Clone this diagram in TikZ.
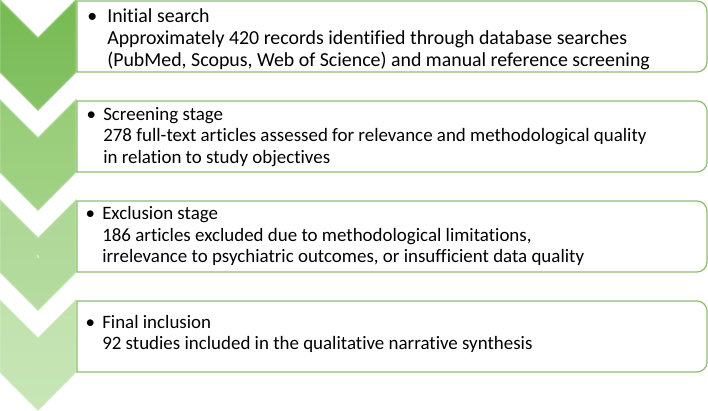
\documentclass[tikz,border=0pt]{standalone}
\usepackage{fontspec}
\setmainfont{Carlito}[Ligatures=CommonOff]
\usepackage{tikz}

\definecolor{chevA}{RGB}{118,186,82}
\definecolor{chevB}{RGB}{150,204,118}
\definecolor{chevC}{RGB}{172,215,148}
\definecolor{chevD}{RGB}{192,226,172}
\definecolor{boxline}{RGB}{140,190,110}

\tikzset{
  chevron/.style={line width=0.8pt, line join=miter},
  stagebox/.style={draw=boxline, line width=0.9pt, fill=white},
  stagetext/.style={anchor=west, align=left, inner sep=0pt,
    font=\fontsize{14.2}{16}\selectfont}
}

\begin{document}
\begin{tikzpicture}[x=0.75pt, y=0.75pt]
    \def\cw{76}
    \def\tip{38}

    \useasboundingbox (0,0) rectangle (708,-411);

    \draw [chevron, draw=chevA!75!white, top color=chevA, bottom color=chevA!88!white]
    (0,0) -- (\tip,-38) -- (\cw,0) -- (\cw,-72) -- (\tip,-110) -- (0,-72) -- cycle;

    \draw [chevron, shift={(0,-100)}, draw=chevB!75!white, top color=chevB, bottom color=chevB!88!white]
    (0,0) -- (\tip,-38) -- (\cw,0) -- (\cw,-72) -- (\tip,-110) -- (0,-72) -- cycle;

    \draw [chevron, shift={(0,-200)}, draw=chevC!75!white, top color=chevC, bottom color=chevC!88!white]
    (0,0) -- (\tip,-38) -- (\cw,0) -- (\cw,-72) -- (\tip,-110) -- (0,-72) -- cycle;

    \draw [chevron, shift={(0,-300)}, draw=chevD!75!white, top color=chevD, bottom color=chevD!88!white]
    (0,0) -- (\tip,-38) -- (\cw,0) -- (\cw,-72) -- (\tip,-110) -- (0,-72) -- cycle;


    \draw [stagebox] (77,-1) -- (697,-1) arc [start angle=90, end angle=0, radius=10]
    -- (707,-62) arc [start angle=0, end angle=-90, radius=10] -- (77,-72) -- cycle;

    \draw [stagebox, shift={(0,-100)}] (77,-1) -- (697,-1) arc [start angle=90, end angle=0, radius=10]
    -- (707,-62) arc [start angle=0, end angle=-90, radius=10] -- (77,-72) -- cycle;

    \draw [stagebox, shift={(0,-200)}] (77,-1) -- (697,-1) arc [start angle=90, end angle=0, radius=10]
    -- (707,-62) arc [start angle=0, end angle=-90, radius=10] -- (77,-72) -- cycle;

    \draw [stagebox, shift={(0,-300)}] (77,-1) -- (697,-1) arc [start angle=90, end angle=0, radius=10]
    -- (707,-62) arc [start angle=0, end angle=-90, radius=10] -- (77,-72) -- cycle;


    \node (initial) [stagetext, font=\fontsize{14.9}{16.5}\selectfont] at (107,-39)
    {\llap{\textbullet\hspace{7.5pt}}Initial search\\
      Approximately 420 records identified through database searches\\
      (PubMed, Scopus, Web of Science) and manual reference screening};

    \node (screening) [stagetext] at (103,-137)
    {\llap{\textbullet\hspace{5.5pt}}Screening stage\\
      278 full-text articles assessed for relevance and methodological quality\\
      in relation to study objectives};

    \node (exclusion) [stagetext] at (102,-236)
    {\llap{\textbullet\hspace{5.5pt}}Exclusion stage\\
      186 articles excluded due to methodological limitations,\\
      irrelevance to psychiatric outcomes, or insufficient data quality};

    \node (inclusion) [stagetext] at (102,-334)
    {\llap{\textbullet\hspace{5.5pt}}Final inclusion\\
      92 studies included in the qualitative narrative synthesis};

    \node (mark) [white, font=\fontsize{5}{5}\selectfont] at (\tip,-257) {s};

  \end{tikzpicture}
\end{document}
